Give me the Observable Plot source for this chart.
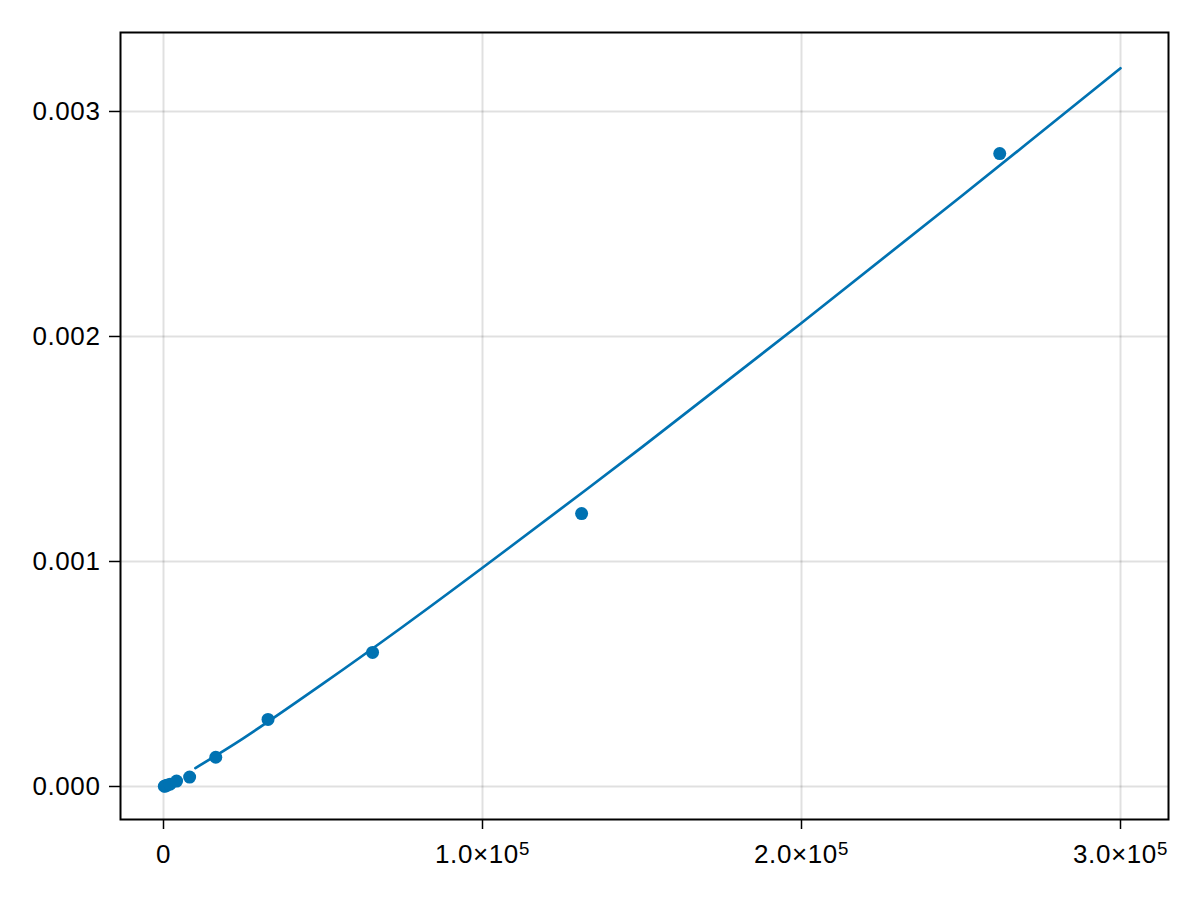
<!DOCTYPE html>
<html>
<head>
<meta charset="utf-8">
<script src="https://cdn.jsdelivr.net/npm/d3@7"></script>
<script src="https://cdn.jsdelivr.net/npm/@observablehq/plot@0.6"></script>
<style>
  html, body { margin: 0; padding: 0; background: #fff; }
  #chart { width: 1200px; height: 900px; }
  #chart svg text { letter-spacing: 0.6px; }
</style>
</head>
<body>
<div id="chart"></div>
<script>
// Measured points (problem size vs. time)
const pointN = [256, 512, 1024, 2048, 4096, 8192, 16384, 32768, 65536, 131072, 262144];
const pointT = [0.000001, 0.000002, 0.000005, 0.000010, 0.000024, 0.000042, 0.000130, 0.000298, 0.000596, 0.001213, 0.002813];

// Fitted curve
const fitN = [10000, 25000, 50000, 75000, 100000, 150000, 200000, 250000, 300000];
const fitT = [0.000082, 0.000214, 0.000457, 0.000710, 0.000972, 0.001508, 0.002060, 0.002622, 0.003192];

// Axis ticks
const xTicks = [0, 100000, 200000, 300000];
const yTicks = [0, 0.001, 0.002, 0.003];

const points = pointN.map((n, i) => ({n, t: pointT[i]}));
const fit = fitN.map((n, i) => ({n, t: fitT[i]}));

const blue = "#0072b2";
const FS = 26;

const chart = Plot.plot({
  width: 1200,
  height: 900,
  marginLeft: 120,
  marginRight: 32,
  marginTop: 32,
  marginBottom: 81,
  style: { fontFamily: "'Liberation Sans', Arial, sans-serif", fontSize: FS + "px", color: "black", background: "white" },
  x: { domain: [-13480, 315047] },
  y: { domain: [-0.0001467, 0.003351] },
  marks: [
    Plot.gridX(xTicks, { stroke: "black", strokeOpacity: 0.12, strokeWidth: 2 }),
    Plot.gridY(yTicks, { stroke: "black", strokeOpacity: 0.12, strokeWidth: 2 }),
    Plot.axisX({
      ticks: xTicks,
      tickSize: 10,
      tickPadding: 15,
      strokeWidth: 1.5,
      fontSize: FS,
      label: null,
      tickFormat: d => d === 0 ? "0" : (d / 1e5).toFixed(1) + "×10^5"
    }),
    Plot.axisY({
      ticks: yTicks,
      tickSize: 11,
      tickPadding: 9,
      strokeWidth: 1.5,
      fontSize: FS,
      label: null,
      tickFormat: d3.format(".3f")
    }),
    Plot.line(fit, { x: "n", y: "t", stroke: blue, strokeWidth: 2.7, curve: "catmull-rom" }),
    Plot.dot(points, { x: "n", y: "t", fill: blue, r: 6.5 }),
    Plot.frame({ stroke: "black", strokeWidth: 2 })
  ]
});

// Render "a×10^b" labels with a real superscript
d3.select(chart).selectAll("text").each(function () {
  const t = this.textContent;
  const m = /^(.*)\^(\d+)$/.exec(t);
  if (!m) return;
  const sel = d3.select(this);
  sel.text(null);
  sel.append("tspan").text(m[1]);
  sel.append("tspan").attr("dy", "-0.42em").attr("font-size", "0.72em").text(m[2]);
});

document.getElementById("chart").appendChild(chart);
</script>
</body>
</html>
